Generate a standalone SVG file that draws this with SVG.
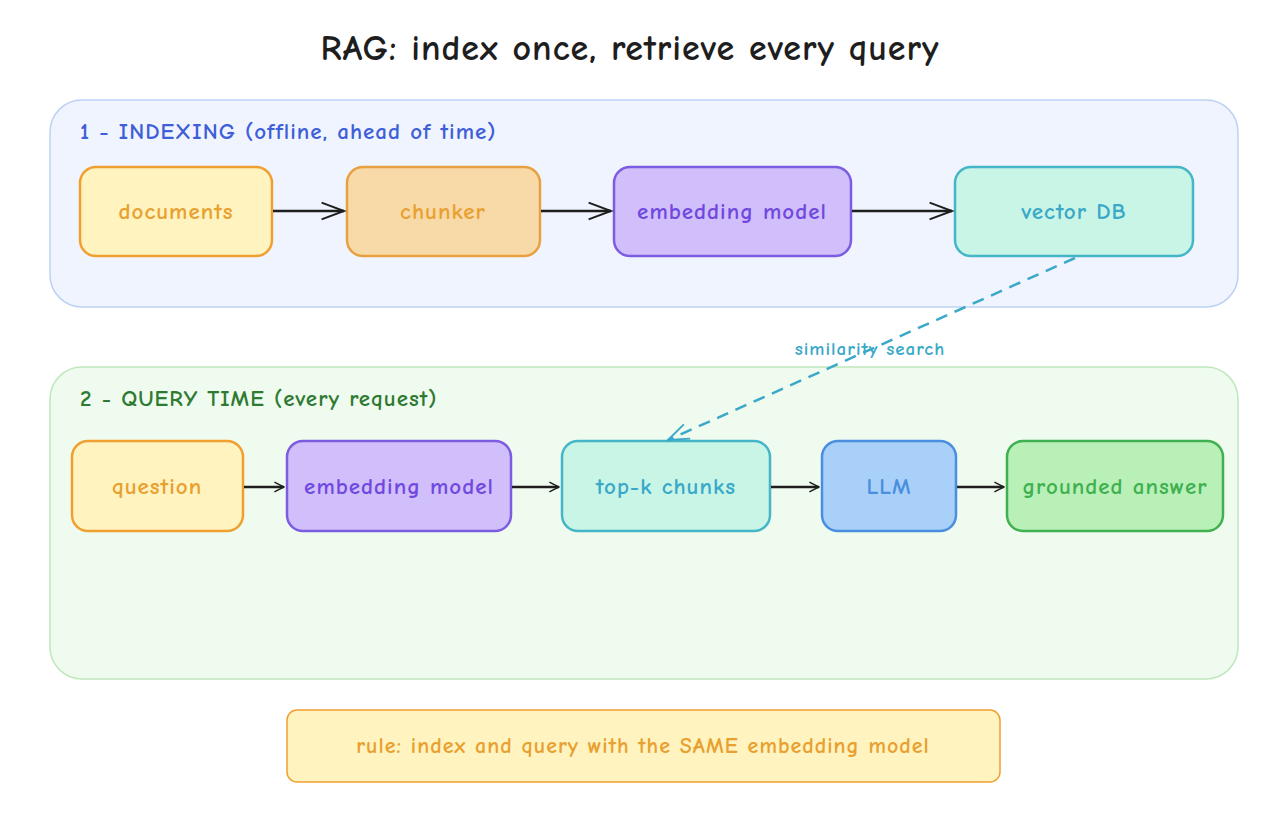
<svg xmlns="http://www.w3.org/2000/svg" width="1272" height="828" viewBox="0 0 1272 828">
<defs>
<style>
text{font-family:"Comic Neue","Liberation Sans",sans-serif;text-anchor:middle;dominant-baseline:central;font-weight:700}
.n{stroke-width:2.5}
.lbl{font-size:23px;letter-spacing:1px}
.c{stroke:#1e1e1e;stroke-width:2.5;fill:none}
</style>
<marker id="ah" viewBox="0 0 20 20" refX="18" refY="10" markerWidth="12" markerHeight="12" orient="auto" markerUnits="userSpaceOnUse"><path d="M2,2 L18,10 L2,18" fill="none" stroke="#1e1e1e" stroke-width="2.5"/></marker>
<marker id="ah2" viewBox="0 0 20 20" refX="18" refY="10" markerWidth="28" markerHeight="28" orient="auto" markerUnits="userSpaceOnUse"><path d="M2,4 L18,10 L2,16" fill="none" stroke="#1e1e1e" stroke-width="1.4"/></marker>
<marker id="ahb" viewBox="0 0 20 20" refX="18" refY="10" markerWidth="26" markerHeight="26" orient="auto" markerUnits="userSpaceOnUse"><path d="M2,4 L18,10 L2,16" fill="none" stroke="#3aa8c8" stroke-width="1.4"/></marker>
</defs>
<rect width="1272" height="828" fill="#ffffff"/>
<text x="630" y="48" font-size="36" fill="#1e1e1e" letter-spacing="1">RAG: index once, retrieve every query</text>
<g id="group-indexing">
<rect x="50" y="100" width="1188" height="207" rx="32" fill="#f0f4fe" stroke="#bcd2f4" stroke-width="1.5"/>
<text x="80" y="131" font-size="23" letter-spacing="1" fill="#3f5fd8" style="text-anchor:start">1 - INDEXING (offline, ahead of time)</text>
</g>
<g id="group-query">
<rect x="50" y="367" width="1188" height="312" rx="32" fill="#f0fbef" stroke="#bfe8bd" stroke-width="1.5"/>
<text x="80" y="398" font-size="23" letter-spacing="1" fill="#2f7a32" style="text-anchor:start">2 - QUERY TIME (every request)</text>
</g>
<g id="documents"><rect class="n" x="80" y="167" width="192" height="89" rx="16" fill="#fff3bf" stroke="#f0a030"/><text class="lbl" x="176" y="211" fill="#e8a030">documents</text></g>
<g id="chunker"><rect class="n" x="347" y="167" width="193" height="89" rx="16" fill="#f8d9a8" stroke="#e8a040"/><text class="lbl" x="443" y="211" fill="#e8a030">chunker</text></g>
<g id="embed1"><rect class="n" x="614" y="167" width="237" height="89" rx="16" fill="#d0bffb" stroke="#7c5ce0"/><text class="lbl" x="732" y="211" fill="#7048e0">embedding model</text></g>
<g id="vectordb"><rect class="n" x="955" y="167" width="238" height="89" rx="16" fill="#c8f5e6" stroke="#45b5c8"/><text class="lbl" x="1074" y="211" fill="#3aa8c8">vector DB</text></g>
<g id="question"><rect class="n" x="72" y="441" width="171" height="90" rx="16" fill="#fff3bf" stroke="#f0a030"/><text class="lbl" x="157" y="486" fill="#e8a030">question</text></g>
<g id="embed2"><rect class="n" x="287" y="441" width="224" height="90" rx="16" fill="#d0bffb" stroke="#7c5ce0"/><text class="lbl" x="399" y="486" fill="#7048e0">embedding model</text></g>
<g id="topk"><rect class="n" x="562" y="441" width="208" height="90" rx="16" fill="#c8f5e6" stroke="#45b5c8"/><text class="lbl" x="666" y="486" fill="#3aa8c8">top-k chunks</text></g>
<g id="llm"><rect class="n" x="822" y="441" width="134" height="90" rx="16" fill="#a8d0f8" stroke="#4a8ee0"/><text class="lbl" x="889" y="486" fill="#4a8ee0">LLM</text></g>
<g id="answer"><rect class="n" x="1007" y="441" width="216" height="90" rx="16" fill="#b8f0b8" stroke="#40b050"/><text class="lbl" x="1115" y="486" fill="#40b050">grounded answer</text></g>
<g id="rule"><rect x="287" y="710" width="713" height="72" rx="10" fill="#fff3bf" stroke="#f0a030" stroke-width="1.5"/><text x="643" y="746" font-size="22" letter-spacing="1" fill="#e8a030">rule: index and query with the SAME embedding model</text></g>
<g id="connectors">
<path class="c" d="M273,211 L344,211" marker-end="url(#ah2)"/>
<path class="c" d="M541,211 L611,211" marker-end="url(#ah2)"/>
<path class="c" d="M852,211 L952,211" marker-end="url(#ah2)"/>
<path class="c" d="M244,487 L284,487" marker-end="url(#ah)"/>
<path class="c" d="M512,487 L559,487" marker-end="url(#ah)"/>
<path class="c" d="M771,487 L819,487" marker-end="url(#ah)"/>
<path class="c" d="M957,487 L1004,487" marker-end="url(#ah)"/>
<path d="M1075,258 L668,440" fill="none" stroke="#3aa8c8" stroke-width="2.5" stroke-dasharray="12,8" marker-end="url(#ahb)"/>
<text x="870" y="349" font-size="19" letter-spacing="1" fill="#3aa8c8">similarity search</text>
</g>
</svg>
